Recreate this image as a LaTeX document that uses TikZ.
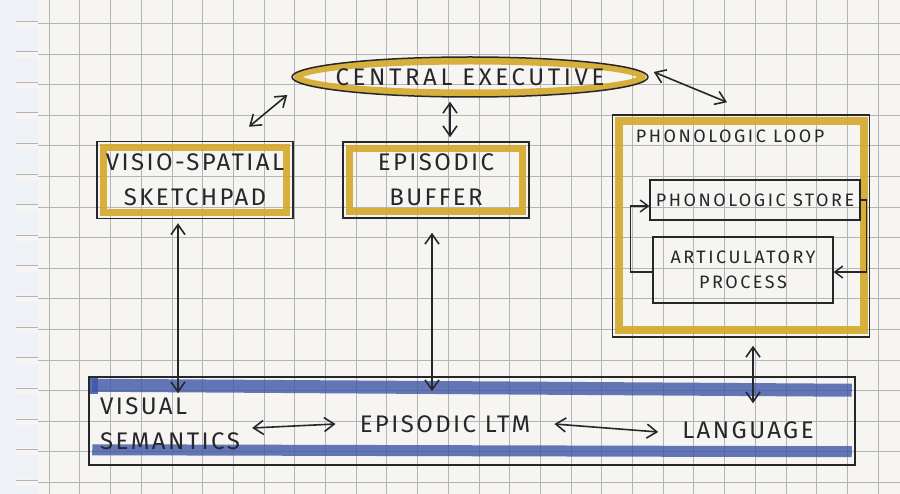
\documentclass[tikz,border=0pt]{standalone}
\usepackage{fontspec}
\setmainfont{Fira Sans}
\usetikzlibrary{shapes.geometric,arrows.meta,calc,backgrounds}
\definecolor{paper}{HTML}{F6F5F1}
\definecolor{gridc}{HTML}{B4B4B8}
\definecolor{mustard}{HTML}{D4A82A}
\definecolor{inkblue}{HTML}{3E57A8}
\definecolor{ink}{HTML}{27272B}
\definecolor{edgec}{HTML}{EEF2F6}
\tikzset{
  gridline/.style={gridc, line width=0.6pt},
  hand/.style={font=\fontsize{24}{35}\selectfont\addfontfeatures{LetterSpace=10}, text=ink, align=center, inner sep=0pt},
  handwide/.style={font=\fontsize{24}{35}\selectfont\addfontfeatures{LetterSpace=15}, text=ink, align=center, inner sep=0pt},
  handsmall/.style={font=\fontsize{18}{25}\selectfont\addfontfeatures{LetterSpace=14}, text=ink, align=center, inner sep=0pt},
  box/.style={draw=ink, line width=1.5pt, inner sep=0pt},
  thinbox/.style={draw=ink, line width=1.2pt, inner sep=0pt},
  ypen/.style={mustard, line width=7pt, opacity=0.9},
  bpen/.style={inkblue, line width=13pt, opacity=0.8},
  arr/.style={ink, line width=1.6pt, {Straight Barb[length=10pt,width=14pt]}-{Straight Barb[length=10pt,width=14pt]}},
  arrone/.style={ink, line width=1.5pt, -{Straight Barb[length=8pt,width=12pt]}},
}
\begin{document}
\begin{tikzpicture}[x=1pt,y=-1pt]
\useasboundingbox (0,0) rectangle (900,494);
\begin{scope}[on background layer]
  \fill[edgec] (0,0) rectangle (900,494);
  \fill[paper] (38,0) rectangle (900,494);
  \foreach \k in {0,...,15}
    \fill[paper] (16,{20+30.6*\k}) rectangle (39,{27+30.6*\k});
  \foreach \k in {0,...,15}
    \draw[gray!60, line width=0.6pt] (16,{21+30.6*\k}) -- (38,{21+30.6*\k});
  \foreach \k in {0,...,27}
    \draw[gridline] ({49+30.7*\k},0) -- ++(0,494);
  \foreach \k in {0,...,15}
    \draw[gridline] (38,{23.3+30.6*\k}) -- (900,{23.3+30.6*\k});
\end{scope}

% nodes
\node[draw=ink, line width=1.5pt, ellipse, minimum width=356pt, minimum height=40pt, inner sep=0pt] (ce) at (470,77) {};
\node[handwide] (cet) at (ce.center) {CENTRAL EXECUTIVE};

\node[box, minimum width=196pt, minimum height=77pt] (vs) at (195,180) {};
\node[hand] (vst) at (vs.center) {VISIO-SPATIAL\\SKETCHPAD};

\node[box, minimum width=186pt, minimum height=76pt] (eb) at (436,180) {};
\node[hand] (ebt) at (eb.center) {EPISODIC\\BUFFER};

\node[box, minimum width=257pt, minimum height=222pt] (pl) at (741,226) {};
\node[handsmall, anchor=north west] (plt) at ([shift={(24,15)}]pl.north west) {PHONOLOGIC LOOP};

\node[thinbox, minimum width=210pt, minimum height=40pt] (ps) at (755,200) {};
\node[handsmall] (pst) at (ps.center) {PHONOLOGIC STORE};

\node[thinbox, minimum width=180pt, minimum height=66pt] (ap) at (743,270) {};
\node[handsmall] (apt) at (ap.center) {ARTICULATORY\\PROCESS};

\node[box, minimum width=766pt, minimum height=88pt] (ltmbox) at (472,421) {};
\node[hand, align=left, anchor=west] (vsem) at (100,424) {VISUAL\\SEMANTICS};
\node[hand] (ltm) at (445,424) {EPISODIC LTM};
\node[hand] (lang) at (748,430) {LANGUAGE};

% colour
\begin{scope}[on background layer]
  \draw[mustard, line width=7pt, opacity=0.9] (ce.center) ellipse[x radius=172, y radius=16];
  \draw[ypen] ([shift={(7,7)}]vs.north west) rectangle ([shift={(-7,-7)}]vs.south east);
  \draw[ypen] ([shift={(7,7)}]eb.north west) rectangle ([shift={(-7,-7)}]eb.south east);
  \draw[ypen, line width=8pt] ([shift={(7,7)}]pl.north west) rectangle ([shift={(-6,-8)}]pl.south east);
  \draw[bpen] ([shift={(4,9)}]ltmbox.north west) -- ([shift={(-4,14)}]ltmbox.north east);
  \draw[bpen, line width=11pt] ([shift={(4,-16)}]ltmbox.south west) -- ([shift={(-4,-14)}]ltmbox.south east);
  \fill[inkblue, opacity=0.85] ([shift={(2,2)}]ltmbox.north west) rectangle ([shift={(10,18)}]ltmbox.north west);
\end{scope}

% connectors
\draw[arr] ([shift={(-4,18)}]ce.west) -- ([shift={(54,-14)}]vs.north);
\draw[arr] ([shift={(-20,4)}]ce.south) -- ([shift={(14,-4)}]eb.north);
\draw[arr] ([shift={(5,-5)}]ce.east) -- ([shift={(-14,-12)}]pl.north);

\draw[arr] ([shift={(-17,4)}]vs.south) -- ([shift={(-17,0)}]vs.south |- ltmbox.north) -- ++(0,17);
\draw[arr] ([shift={(-4,14)}]eb.south) -- ([shift={(-4,0)}]eb.south |- ltmbox.north) -- ++(0,15);
\draw[arr] ([shift={(12,8)}]pl.south) -- ([shift={(12,0)}]pl.south |- ltmbox.north) -- ++(0,27);

\draw[arr] ([shift={(12,4)}]vsem.east) -- ([shift={(-24,0)}]ltm.west);
\draw[arr] ([shift={(24,0)}]ltm.east) -- ([shift={(-24,2)}]lang.west);

\draw[arrone] ([shift={(0,2)}]ap.west) -- ++(-22,0) |- ([shift={(0,6)}]ps.west);
\draw[arrone] (ps.east) -- ++(6,0) |- ([shift={(0,2)}]ap.east);
\end{tikzpicture}
\end{document}
